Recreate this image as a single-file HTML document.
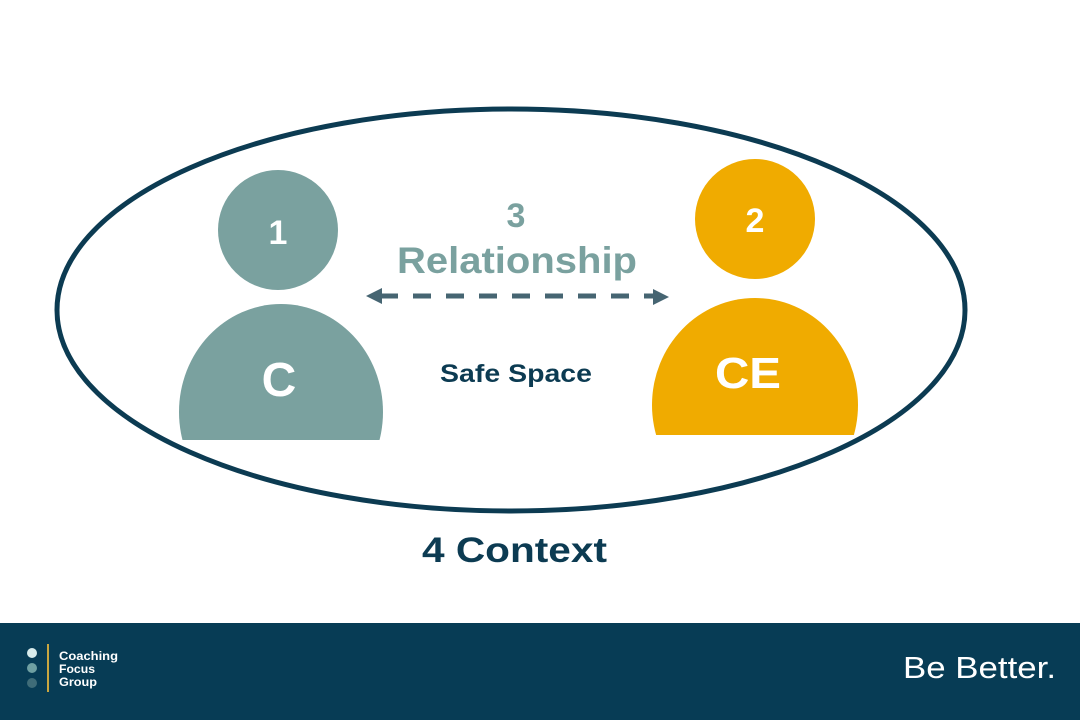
<!DOCTYPE html>
<html><head><style>
body{margin:0;width:1080px;height:720px;background:#fff;overflow:hidden;font-family:"Liberation Sans",sans-serif}
</style></head><body>
<svg width="1080" height="720" xmlns="http://www.w3.org/2000/svg">
<defs>
<clipPath id="c1"><rect x="0" y="0" width="1080" height="440"/></clipPath>
<clipPath id="c2"><rect x="0" y="0" width="1080" height="435"/></clipPath>
</defs>
<ellipse cx="511" cy="310" rx="454" ry="201" fill="none" stroke="#0c3b52" stroke-width="5"/>
<circle cx="278" cy="230" r="60" fill="#7aa19f"/>
<ellipse cx="281" cy="412" rx="102" ry="108" fill="#7aa19f" clip-path="url(#c1)"/>
<circle cx="755" cy="219" r="60" fill="#f0ab00"/>
<ellipse cx="755" cy="405" rx="103" ry="107" fill="#f0ab00" clip-path="url(#c2)"/>
<text x="278" y="244" font-size="34" font-weight="bold" fill="#fff" text-anchor="middle">1</text>
<text x="755" y="232" font-size="34" font-weight="bold" fill="#fff" text-anchor="middle">2</text>
<text x="279" y="396" font-size="48" font-weight="bold" fill="#fff" text-anchor="middle">C</text>
<text x="748" y="388" font-size="44" font-weight="bold" fill="#fff" text-anchor="middle" textLength="66" lengthAdjust="spacingAndGlyphs">CE</text>
<text x="516" y="227" font-size="34" font-weight="bold" fill="#7aa19f" text-anchor="middle">3</text>
<text x="397" y="273" font-size="37" font-weight="bold" fill="#7aa19f" textLength="240" lengthAdjust="spacingAndGlyphs">Relationship</text>
<line x1="380" y1="296" x2="656" y2="296" stroke="#466572" stroke-width="5" stroke-dasharray="18,15"/>
<polygon points="366,296 382,288 382,304" fill="#466572"/>
<polygon points="669,297 653,289 653,305" fill="#466572"/>
<text x="440" y="382" font-size="25" font-weight="bold" fill="#0c3b52" textLength="152" lengthAdjust="spacingAndGlyphs">Safe Space</text>
<text x="422" y="562" font-size="35" font-weight="bold" fill="#0c3b52" textLength="185" lengthAdjust="spacingAndGlyphs">4 Context</text>
<rect x="0" y="623" width="1080" height="97" fill="#073c55"/>
<circle cx="32" cy="653" r="5" fill="#d8ecec"/>
<circle cx="32" cy="668" r="5" fill="#6fa0a2"/>
<circle cx="32" cy="683" r="5" fill="#3f6c78"/>
<line x1="48" y1="644" x2="48" y2="692" stroke="#c9a640" stroke-width="2"/>
<text x="59" y="660" font-size="12" font-weight="bold" fill="#fff" textLength="59" lengthAdjust="spacingAndGlyphs">Coaching</text>
<text x="59" y="673" font-size="12" font-weight="bold" fill="#fff" textLength="36" lengthAdjust="spacingAndGlyphs">Focus</text>
<text x="59" y="686" font-size="12" font-weight="bold" fill="#fff" textLength="38" lengthAdjust="spacingAndGlyphs">Group</text>
<text x="903" y="678" font-size="31" fill="#fff" textLength="153" lengthAdjust="spacingAndGlyphs">Be Better.</text>
</svg>
</body></html>
